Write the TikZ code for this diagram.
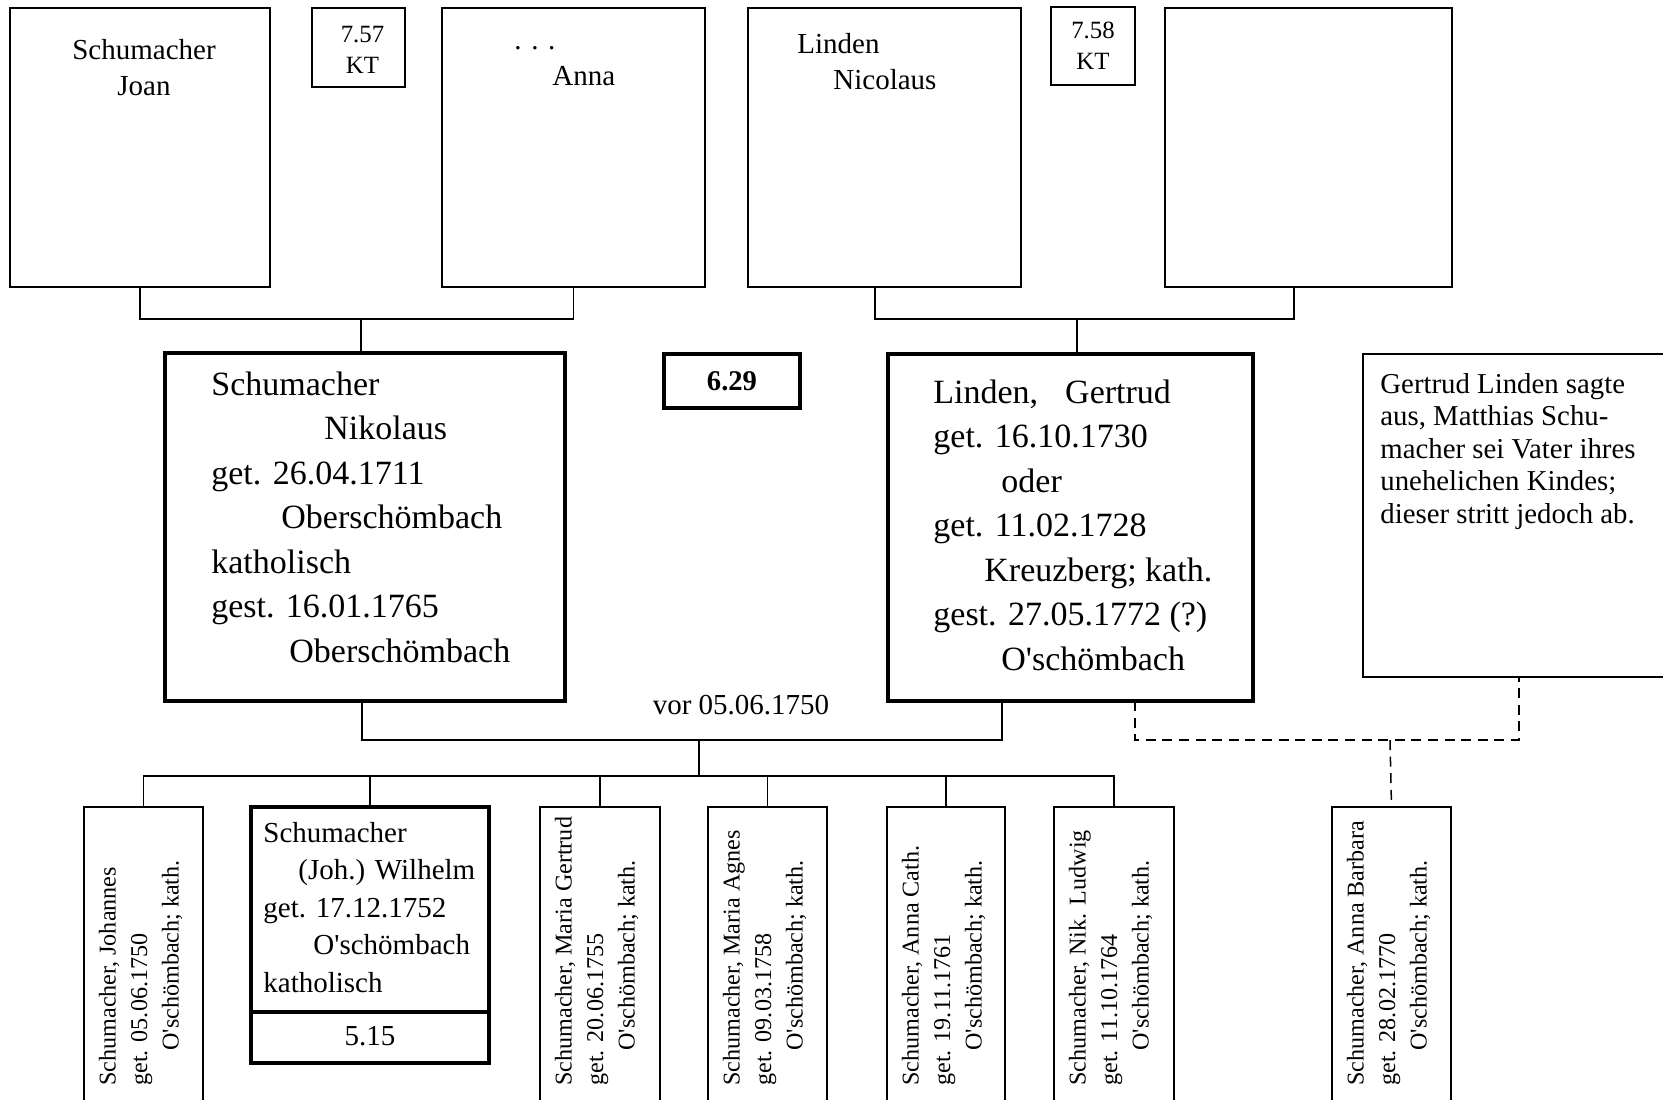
\documentclass[tikz,border=0pt]{standalone}
\usepackage{fontspec}
\setmainfont{Liberation Serif}[Ligatures=TeXOff]
\usetikzlibrary{fit,calc}
% stacked lines, baseline of the node = baseline of the first line
\newcommand\leftlines[1]{\begin{tabular}[t]{@{}l@{}}#1\end{tabular}}
\newcommand\midlines[1]{\begin{tabular}[t]{@{}c@{}}#1\end{tabular}}
\newcommand\setfs[2]{\fontsize{#1}{#2}\selectfont}
\begin{document}
\begin{tikzpicture}[x=0.5pt,y=-0.5pt,
  box/.style={draw, line width=0.75pt, inner sep=0pt, outer sep=0pt, rectangle},
  heavybox/.style={draw, line width=1.7pt, inner sep=0pt, outer sep=0pt, rectangle},
  link/.style={line width=0.75pt},
  loose/.style={line width=0.75pt, dash pattern=on 5pt off 3.3pt},
  lab/.style={inner sep=0pt, anchor=base west},
  clab/.style={inner sep=0pt, anchor=base},
  topfont/.style={font=\setfs{14.5}{18.25}},
  ktfont/.style={font=\setfs{12.4}{15.5}},
  bigfont/.style={font=\setfs{17}{22.25}},
  notefont/.style={font=\setfs{14.4}{16.25}},
  kidfont/.style={font=\setfs{14.5}{18.75}},
  sidefont/.style={font=\setfs{12.05}{15.75}},
  upright/.style={lab, rotate=90, sidefont},
]
\useasboundingbox (0,0) rectangle (1663,1099);
\clip (0,0) rectangle (1663,1099);
\fill[white] (0,0) rectangle (1663,1099);

% ---- grandparents ----
\node[box, fit={(10,8) (270,287)}] (joan) {};
\node[box, fit={(312,8) (405,87)}] (kt57) {};
\node[box, fit={(442,8) (705,287)}] (anna) {};
\node[box, fit={(748,8) (1021,287)}] (nic) {};
\node[box, fit={(1051,7) (1135,85)}] (kt58) {};
\node[box, fit={(1165,8) (1452,287)}] (wife2) {};

\node[clab, topfont] (joant) at ($(joan.north)+(4,51)$) {\midlines{Schumacher\\Joan}};
\node[clab, ktfont] (kt57t) at ($(kt57.north)+(4,34)$) {\midlines{7.57\\KT}};
\node[lab, topfont] (annat) at ($(anna.north west)+(72,41)$) {\leftlines{. . .\\\hspace*{19pt}Anna}};
\node[lab, topfont] (nict) at ($(nic.north west)+(49,45)$) {\leftlines{Linden\\\hspace*{18pt}Nicolaus}};
\node[clab, ktfont] (kt58t) at ($(kt58.north)+(0,31)$) {\midlines{7.58\\KT}};

% ---- parents ----
\node[heavybox, fit={(165,353) (565,701)}] (nik) {};
\node[heavybox, fit={(664,354) (800,408)}] (gen) {};
\node[heavybox, fit={(888,354) (1253,701)}] (gert) {};
\node[box, fit={(1363,354) (1675,677)}] (note) {};

\node[lab, bigfont] (nikt) at ($(nik.north west)+(46,42)$) {\leftlines{Schumacher\\\hspace*{56.5pt}Nikolaus\\get. 26.04.1711\\\hspace*{35pt}Oberschömbach\\katholisch\\gest. 16.01.1765\\\hspace*{39pt}Oberschömbach}};
\node[clab, font=\setfs{14.3}{17}\bfseries] (gent) at ($(gen.north)+(0,36)$) {6.29};
\node[lab, bigfont] (gertt) at ($(gert.north west)+(45,49)$) {\leftlines{Linden,\hspace{13.5pt}Gertrud\\get. 16.10.1730\\\hspace*{34pt}oder\\get. 11.02.1728\\\hspace*{25.5pt}Kreuzberg; kath.\\gest. 27.05.1772 (?)\\\hspace*{34pt}O'schömbach}};
\node[lab, notefont] (notet) at ($(note.north west)+(17,39)$) {\leftlines{Gertrud Linden sagte\\aus, Matthias Schu-\\macher sei Vater ihres\\unehelichen Kindes;\\dieser stritt jedoch ab.}};

% ---- children ----
\node[box, fit={(84,807) (203,1110)}] (c1) {};
\node[heavybox, fit={(251,807) (489,1012)}] (wil) {};
\node[heavybox, fit={(251,1012) (489,1063)}] (wilref) {};
\node[box, fit={(540,807) (660,1110)}] (c3) {};
\node[box, fit={(708,807) (827,1110)}] (c4) {};
\node[box, fit={(887,807) (1005,1110)}] (c5) {};
\node[box, fit={(1054,807) (1174,1110)}] (c6) {};
\node[box, fit={(1332,807) (1451,1110)}] (c7) {};

\node[lab, kidfont] (wilt) at ($(wil.north west)+(12,35)$) {\leftlines{Schumacher\\\hspace*{17.5pt}(Joh.) Wilhelm\\get. 17.12.1752\\\hspace*{25pt}O'schömbach\\katholisch}};
\node[clab, kidfont] (wilreft) at ($(wilref.north)+(0,33)$) {5.15};

\node[upright] (c1t) at ($(c1.north west)+(31.5,279)$) {\leftlines{Schumacher, Johannes\\get. 05.06.1750\\\hspace*{17.5pt}O'schömbach; kath.}};
\node[upright] (c3t) at ($(c3.north west)+(31.5,279)$) {\leftlines{Schumacher, Maria Gertrud\\get. 20.06.1755\\\hspace*{17.5pt}O'schömbach; kath.}};
\node[upright] (c4t) at ($(c4.north west)+(31.5,279)$) {\leftlines{Schumacher, Maria Agnes\\get. 09.03.1758\\\hspace*{17.5pt}O'schömbach; kath.}};
\node[upright] (c5t) at ($(c5.north west)+(31.5,279)$) {\leftlines{Schumacher, Anna Cath.\\get. 19.11.1761\\\hspace*{17.5pt}O'schömbach; kath.}};
\node[upright] (c6t) at ($(c6.north west)+(31.5,279)$) {\leftlines{Schumacher, Nik. Ludwig\\get. 11.10.1764\\\hspace*{17.5pt}O'schömbach; kath.}};
\node[upright] (c7t) at ($(c7.north west)+(31.5,279)$) {\leftlines{Schumacher, Anna Barbara\\get. 28.02.1770\\\hspace*{17.5pt}O'schömbach; kath.}};

% ---- connectors ----
\coordinate (pbar) at (361,319);
\draw[link] (joan.south) |- (pbar) -| (anna.south);
\draw[link] (pbar) -- (pbar |- nik.north);

\coordinate (lbar) at (1077,319);
\coordinate (nicx) at (875,0);
\coordinate (wife2x) at (1294,0);
\draw[link] (nicx |- nic.south) |- (lbar) -| (wife2x |- wife2.south);
\draw[link] (lbar) -- (lbar |- gert.north);

\coordinate (wed) at (699,740);
\coordinate (nikx) at (362,0);
\coordinate (gertx) at (1002,0);
\draw[link] (nikx |- nik.south) |- (wed) -| (gertx |- gert.south);
\node[clab, topfont] (vor) at (741,714) {vor 05.06.1750};

\coordinate (kids) at (699,776);
\draw[link] (wed) -- (kids);
\draw[link] (c1.north) |- (kids) -| (c6.north);
\foreach \k in {wil,c3,c4,c5} \draw[link] (\k.north) -- (\k.north |- kids);

\coordinate (aff) at (1390,740);
\coordinate (gertd) at (1135,0);
\draw[loose] (gertd |- gert.south) |- (aff) -| (note.south);
\draw[loose] (aff) -- (c7.north);
\end{tikzpicture}
\end{document}
